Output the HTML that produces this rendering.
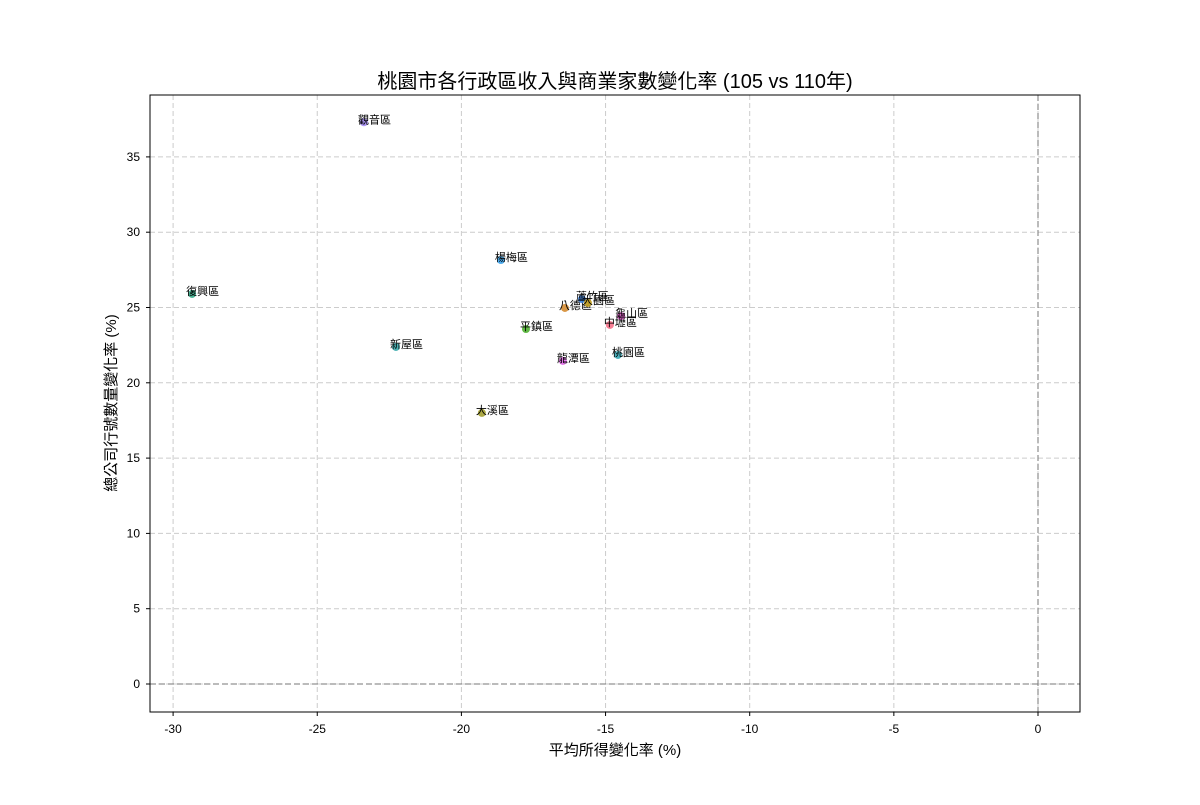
<!DOCTYPE html>
<html><head><meta charset="utf-8"><style>
body{margin:0;background:#fff;}
svg text{font-family:"Liberation Sans","Noto Sans CJK TC",sans-serif;}
</style></head><body>
<svg id="c" width="1200" height="800" xmlns="http://www.w3.org/2000/svg">
<rect width="1200" height="800" fill="#fff"/>
<text x="615" y="88" font-size="20" text-anchor="middle">桃園市各行政區收入與商業家數變化率 (105 vs 110年)</text>
<text x="615" y="755" font-size="15" text-anchor="middle">平均所得變化率 (%)</text>
<text transform="translate(116,403) rotate(-90)" font-size="15" text-anchor="middle">總公司行號數量變化率 (%)</text>
<g id="grid"></g><g id="ticks"></g><g id="marks"></g>
<rect x="150" y="95" width="930" height="617" fill="none" stroke="#000" stroke-width="1"/>
</svg>
<script>
const districts=["觀音區","復興區","楊梅區","新屋區","大溪區","平鎮區","八德區","龍潭區","蘆竹區","大園區","龜山區","中壢區","桃園區"];
const incomeChange=[-23.38,-29.34,-18.63,-22.27,-19.29,-17.76,-16.41,-16.48,-15.82,-15.61,-14.46,-14.85,-14.57];
const companyChange=[37.3,25.9,28.15,22.38,18.0,23.57,24.97,21.45,25.56,25.3,24.43,23.84,21.85];
const colors=["#a48cf4","#36ad8a","#3ba3ec","#38aaac","#a4a031","#50b131","#d58c32","#e36ae8","#3b7fd8","#c4a020","#f561dd","#f77189","#39a7b5"];
const xTicks=[-30,-25,-20,-15,-10,-5,0];
const yTicks=[0,5,10,15,20,25,30,35];
const NS="http://www.w3.org/2000/svg";
const X=v=>1038+v*28.83, Y=v=>684-v*15.06;
function mk(t,a,p){const e=document.createElementNS(NS,t);for(const k in a)e.setAttribute(k,a[k]);p.appendChild(e);return e;}
const grid=document.getElementById('grid'),ticks=document.getElementById('ticks'),marks=document.getElementById('marks');
xTicks.forEach(v=>{const x=X(v);
 const g=mk('line',{x1:x,x2:x,y1:95,y2:712,stroke:'#ccc','stroke-dasharray':'5,3'},grid);
 
 
 mk('line',{x1:x,x2:x,y1:712,y2:716,stroke:'#000'},ticks);
 const t=mk('text',{x:x,y:733,'font-size':12,'text-anchor':'middle'},ticks);t.textContent=v;
 
 
});
yTicks.forEach(v=>{const y=Y(v);
 const g=mk('line',{x1:150,x2:1080,y1:y,y2:y,stroke:'#ccc','stroke-dasharray':'5,3'},grid);
 
 
 mk('line',{x1:146,x2:150,y1:y,y2:y,stroke:'#000'},ticks);
 const t=mk('text',{x:140,y:y+4,'font-size':12,'text-anchor':'end'},ticks);t.textContent=v;
 
 
});
const h=mk('line',{x1:150,x2:1080,y1:Y(0),y2:Y(0),stroke:'#777','stroke-dasharray':'6,3'},grid);


const vl=mk('line',{x1:X(0),x2:X(0),y1:95,y2:712,stroke:'#777','stroke-dasharray':'6,3'},grid);


districts.forEach((d,i)=>{const x=X(incomeChange[i]),y=Y(companyChange[i]);
 const c=mk('circle',{cx:x,cy:y,r:4,fill:colors[i],opacity:0.9},marks);
 
 
 const t=mk('text',{x:x-6,y:y+1,'font-size':11},marks);t.textContent=d;
 
 
});
</script>
</body></html>
